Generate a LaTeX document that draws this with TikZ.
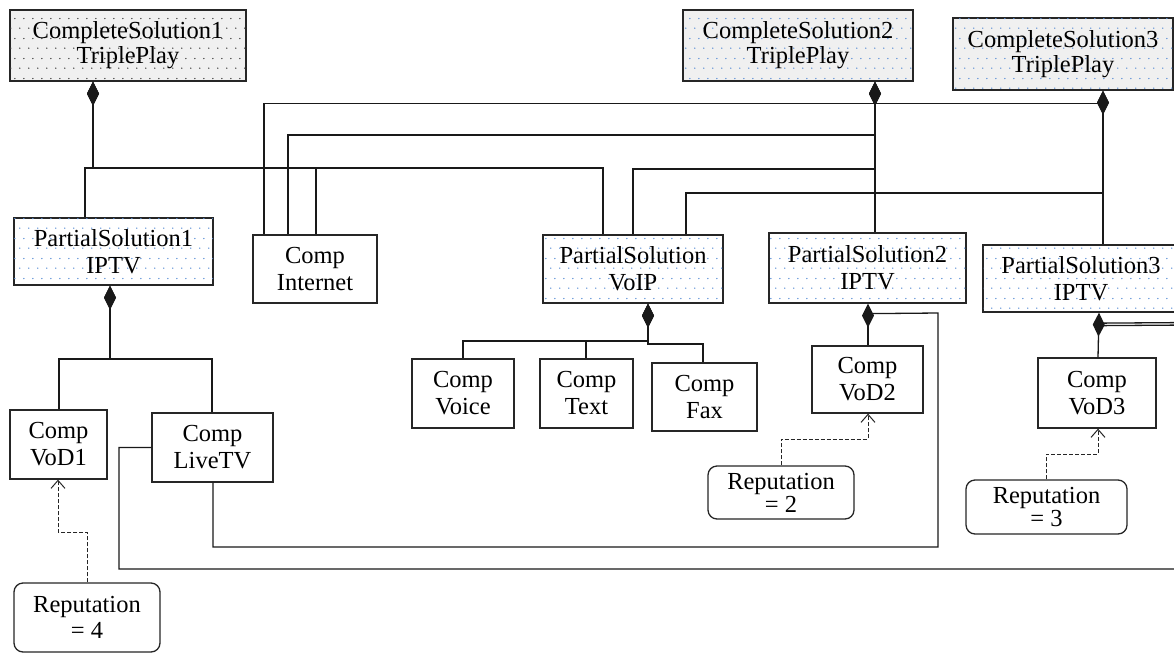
\documentclass[tikz,border=0pt]{standalone}
\usepackage{fontspec}
\setmainfont{Liberation Serif}
\usetikzlibrary{arrows.meta,patterns.meta}
\tikzdeclarepattern{
  name=gdots,
  type=uncolored,
  bounding box={(0pt,0pt) and (9pt,20pt)},
  tile size={(9pt,20pt)},
  code={\fill (2pt,5pt) circle (0.8pt); \fill (6.5pt,15pt) circle (0.8pt);}
}
\definecolor{dotblue}{HTML}{5A8ED6}
\tikzset{
  box/.style={draw=black!85, line width=1.3pt, inner sep=0pt, align=center,
    font=\fontsize{24.5}{27}\selectfont},
  csbox/.style={box, fill=black!6, postaction={pattern=gdots, pattern color=#1},
    font=\fontsize{24.5}{25}\selectfont},
  psbox/.style={box, fill=white, postaction={pattern=gdots, pattern color=dotblue}},
  compbox/.style={box, fill=white},
  repbox/.style={box, fill=white, rounded corners=9pt, font=\fontsize{24.5}{23}\selectfont},
  link/.style={line width=1.3pt, draw=black!90},
  whole/.style={link, {Diamond[length=24pt,width=12pt]}-},
  dep/.style={line width=1pt, draw=black!85, dash pattern=on 4pt off 2pt,
    -{Straight Barb[length=8pt,width=14pt]}},
}
\begin{document}
\begin{tikzpicture}[x=1pt,y=-1pt]
\useasboundingbox (0,0) rectangle (1174,653);
% nodes
\node[csbox=black!75, minimum width=236pt, minimum height=71pt] (cs1) at (128,45.5) {CompleteSolution1\\TriplePlay};
\node[csbox=dotblue, minimum width=230pt, minimum height=71pt] (cs2) at (798,45.5) {CompleteSolution2\\TriplePlay};
\node[csbox=dotblue, minimum width=220pt, minimum height=72pt] (cs3) at (1063,54) {CompleteSolution3\\TriplePlay};
\node[psbox, minimum width=199pt, minimum height=67pt] (ps1) at (113.5,251.5) {PartialSolution1\\IPTV};
\node[compbox, minimum width=124pt, minimum height=68pt] (inet) at (315,269) {Comp\\Internet};
\node[psbox, minimum width=180pt, minimum height=68pt] (voip) at (633,269) {PartialSolution\\VoIP};
\node[psbox, minimum width=197pt, minimum height=70pt] (ps2) at (867.5,268) {PartialSolution2\\IPTV};
\node[psbox, minimum width=196pt, minimum height=67pt] (ps3) at (1081,278.5) {PartialSolution3\\IPTV};
\node[compbox, minimum width=102pt, minimum height=69pt] (voice) at (463,393.5) {Comp\\Voice};
\node[compbox, minimum width=93pt, minimum height=69pt] (text) at (586.5,393.5) {Comp\\Text};
\node[compbox, minimum width=105pt, minimum height=68pt] (fax) at (704.5,397) {Comp\\Fax};
\node[compbox, minimum width=111pt, minimum height=67pt] (vod2) at (867.5,379.5) {Comp\\VoD2};
\node[compbox, minimum width=118pt, minimum height=70pt] (vod3) at (1097,393) {Comp\\VoD3};
\node[compbox, minimum width=97pt, minimum height=69pt] (vod1) at (58.5,444.5) {Comp\\VoD1};
\node[compbox, minimum width=121pt, minimum height=69pt] (live) at (212.5,447.5) {Comp\\LiveTV};
\node[repbox, minimum width=146pt, minimum height=69pt, font=\fontsize{24.5}{26}\selectfont] (rep4) at (87,617.5) {Reputation\\= 4};
\node[repbox, minimum width=146pt, minimum height=53pt] (rep2) at (781,492.5) {Reputation\\= 2};
\node[repbox, minimum width=161pt, minimum height=54pt] (rep3) at (1046.5,507) {Reputation\\= 3};
\coordinate (off) at (1190,325);
% CompleteSolution1
\draw[whole] ([xshift=-35pt]cs1.south) -- (93,168) -| ([xshift=-28.5pt]ps1.north);
\draw[whole] ([xshift=-35pt]cs1.south) -- (93,168) -| ([xshift=1pt]inet.north);
\draw[whole] ([xshift=-35pt]cs1.south) -- (93,168) -| ([xshift=-30pt]voip.north);
% CompleteSolution2
\draw[whole] ([xshift=77pt]cs2.south) -- (875,135) -| ([xshift=-27pt]inet.north);
\draw[whole] ([xshift=77pt]cs2.south) -- (875,169) -| (voip.north);
\draw[whole] ([xshift=77pt]cs2.south) -- ([xshift=7.5pt]ps2.north);
% CompleteSolution3
\draw[whole] ([xshift=40pt]cs3.south) -- ([xshift=22pt]ps3.north);
\draw[whole] ([xshift=40pt]cs3.south) -- (1103,193) -| ([xshift=53pt]voip.north);
\draw[link] ([xshift=40pt,yshift=-13pt]cs3.south) -| ([xshift=-51pt]inet.north);
% PartialSolution1
\draw[whole] ([xshift=-3.5pt]ps1.south) -- (110,359) -| ([xshift=0.5pt]vod1.north);
\draw[whole] ([xshift=-3.5pt]ps1.south) -- (110,359) -| ([xshift=-0.5pt]live.north);
% PartialSolution VoIP
\draw[whole] ([xshift=15pt]voip.south) -- (648,341) -| (voice.north);
\draw[whole] ([xshift=15pt]voip.south) -- (648,341) -| ([xshift=-0.5pt]text.north);
\draw[whole] ([xshift=15pt]voip.south) -- (648,344) -| ([xshift=-1.5pt]fax.north);
% PartialSolution2
\draw[whole] ([xshift=0.5pt]ps2.south) -- ([xshift=0.5pt]vod2.north);
\draw[link] ([xshift=0.5pt,yshift=-10pt]ps2.south) -- (938,313) -- (938,547) -| ([xshift=0.5pt]live.south);
% PartialSolution3
\draw[whole] ([xshift=18pt]ps3.south) -- ([xshift=1pt]vod3.north);
\draw[link] ([xshift=18pt,yshift=-10.5pt]ps3.south) -- (1190,322.5) |- (119,569) |- (live.west);
\draw[link] ([xshift=18pt,yshift=-13pt]ps3.south) -- (off);
% dependencies
\draw[dep] (rep4.north) -- (87,532) -| ([xshift=-0.5pt]vod1.south);
\draw[dep] (rep2.north) -- (781,439) -| ([xshift=0.5pt]vod2.south);
\draw[dep] (rep3.north) -- (1046.5,454) -| ([xshift=1pt]vod3.south);
\end{tikzpicture}
\end{document}
